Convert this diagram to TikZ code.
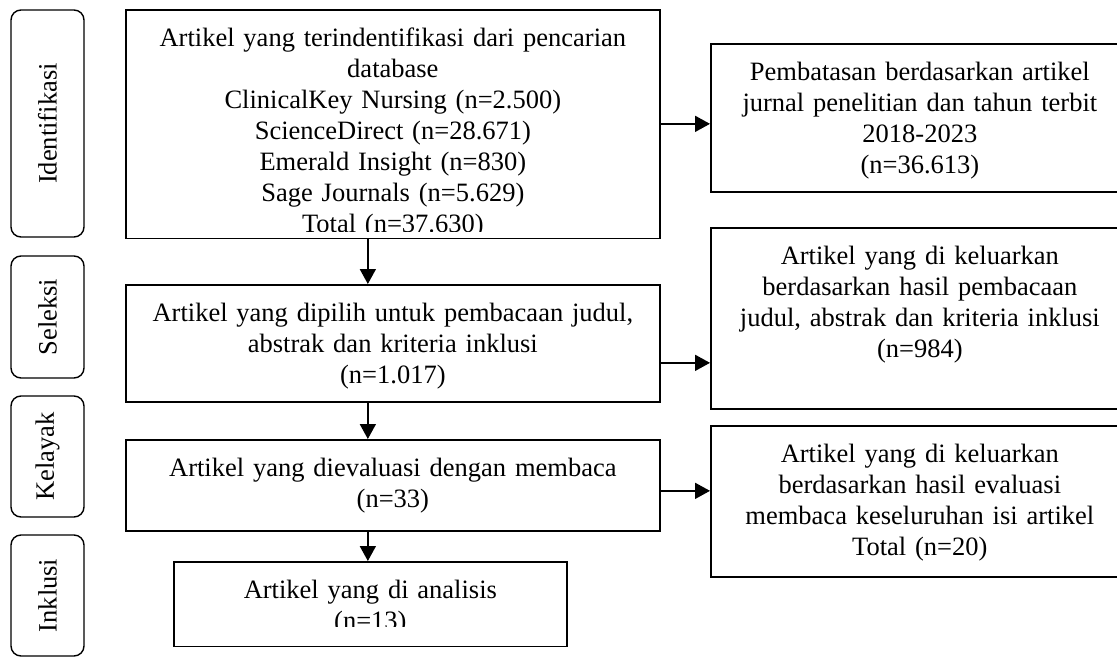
\documentclass[tikz,border=0pt]{standalone}
\usepackage{fontspec}
\setmainfont{Liberation Serif}
\usetikzlibrary{arrows.meta,calc}

\begin{document}
\begin{tikzpicture}[x=0.5pt,y=-0.5pt,
  every node/.style={font=\fontsize{13.25pt}{15.5pt}\selectfont},
  stage/.style={draw,line width=0.85pt,inner sep=0pt,anchor=north west,
                align=center,text height=18.25pt},
  phase/.style={draw,line width=0.7pt,rounded corners=5pt,rotate=90,
                inner sep=0pt,minimum height=36.5pt},
  arr/.style={-{Triangle[length=7.5pt,width=8pt]},line width=0.85pt}]
\useasboundingbox (0,0) rectangle (1117,658);

% phases on the left
\node (idf) [phase,minimum width=113.5pt] at (47.5,123.5) {Identifikasi};
\node (sel) [phase,minimum width=61pt]    at (47.5,317)   {Seleksi};
\node (kel) [phase,minimum width=60.5pt]  at (47.5,456.5) {Kelayak};
\node (ink) [phase,minimum width=60.5pt]  at (47.5,595.5) {Inklusi};

% main column
\node (identified) [stage,text width=267pt,text depth=95.75pt] at (125,9)
  {Artikel yang terindentifikasi dari pencarian\\database\\ClinicalKey Nursing (n=2.500)\\
   ScienceDirect (n=28.671)\\Emerald Insight (n=830)\\Sage Journals (n=5.629)\\Total (n=37.630)};
\node (screened) [stage,text width=267pt,text depth=40.25pt] at (125,284)
  {Artikel yang dipilih untuk pembacaan judul,\\abstrak dan kriteria inklusi\\(n=1.017)};
\node (evaluated) [stage,text width=267pt,text depth=27.25pt] at (125,439)
  {Artikel yang dievaluasi dengan membaca\\(n=33)};
\node (analysed) [stage,text width=196.5pt,text depth=23.75pt] at (173,561)
  {Artikel yang di analisis\\(n=13)};

% excluded column
\node (limit) [stage,text width=209pt,text depth=55.75pt] at (710,43)
  {Pembatasan berdasarkan artikel\\jurnal penelitian dan tahun terbit\\2018-2023\\(n=36.613)};
\node (outscreen) [stage,text width=209pt,text depth=72.25pt] at (710,227)
  {Artikel yang di keluarkan\\berdasarkan hasil pembacaan\\judul, abstrak dan kriteria inklusi\\(n=984)};
\node (outeval) [stage,text width=209pt,text depth=57.25pt] at (710,425)
  {Artikel yang di keluarkan\\berdasarkan hasil evaluasi\\membaca keseluruhan isi artikel\\Total (n=20)};

% text cut off at the bottom of two boxes
\fill[white] ($(identified.south west)+(1.5,-1)$) rectangle ($(identified.south east)+(-1.5,-7)$);
\fill[white] ($(analysed.south west)+(1.5,-1)$) rectangle ($(analysed.south east)+(-1.5,-19.5)$);

\draw[arr] ([xshift=-12.5pt]identified.south) coordinate (d1) -- (d1 |- screened.north);
\draw[arr] ([xshift=-12.5pt]screened.south) coordinate (d2) -- (d2 |- evaluated.north);
\draw[arr] ([xshift=-12.5pt]evaluated.south) coordinate (d3) -- (d3 |- analysed.north);

\draw[arr] (identified.east) -- (identified.east -| limit.west);
\draw[arr] ([yshift=-9.75pt]screened.east) coordinate (h2) -- (h2 -| outscreen.west);
\draw[arr] ([yshift=-2.75pt]evaluated.east) coordinate (h3) -- (h3 -| outeval.west);
\end{tikzpicture}
\end{document}
